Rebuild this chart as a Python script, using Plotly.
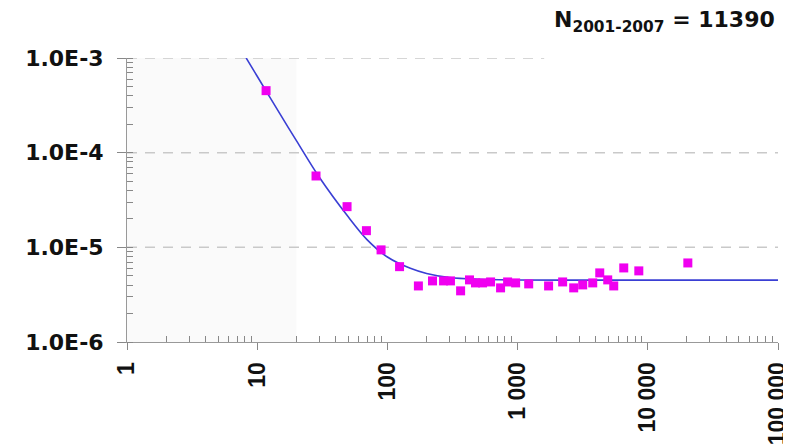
import plotly.graph_objects as go

# ---- data ----
point_x = [11.7, 28.3, 49, 69, 89.4, 124, 173, 222, 270, 305, 365, 427, 475, 538, 620, 740, 838,
           966, 1217, 1730, 2218, 2697, 3162, 3776, 4275, 4923, 5475, 6536, 8530, 20300]
point_y = [4.52e-4, 5.67e-5, 2.69e-5, 1.50e-5, 9.4e-6, 6.25e-6, 3.91e-6, 4.42e-6, 4.42e-6, 4.42e-6,
           3.47e-6, 4.53e-6, 4.21e-6, 4.21e-6, 4.31e-6, 3.73e-6, 4.31e-6, 4.21e-6, 4.11e-6, 3.91e-6,
           4.31e-6, 3.73e-6, 4.01e-6, 4.21e-6, 5.37e-6, 4.53e-6, 3.91e-6, 6.06e-6, 5.64e-6, 6.84e-6]

curve_x = [7.8, 10, 15, 20, 30, 50, 70, 100, 150, 200, 300, 500, 1000, 3000, 10000, 100000]
curve_y = [1.13e-3, 6.42e-4, 2.55e-4, 1.34e-4, 5.5e-5, 2.1e-5, 1.2e-5, 7.9e-6, 6.0e-6, 5.3e-6,
           4.8e-6, 4.6e-6, 4.52e-6, 4.5e-6, 4.5e-6, 4.5e-6]

x_tickvals = [1, 10, 100, 1000, 10000, 100000]
x_ticktext = ["1", "10", "100", "1 000", "10 000", "100 000"]
y_tickvals = [1e-6, 1e-5, 1e-4, 1e-3]
y_ticktext = ["1.0E-6", "1.0E-5", "1.0E-4", "1.0E-3"]
minor_steps = [2, 3, 4, 5, 6, 7, 8, 9]
grid_levels = [1e-5, 1e-4]
shaded_span = [1, 20]
title_text = "N<sub>2001-2007</sub> = 11390"

x_minor = [m * d for d in x_tickvals[:-1] for m in minor_steps]

fig = go.Figure()

fig.add_trace(go.Scatter(x=curve_x, y=curve_y, mode="lines",
                         line=dict(color="#3a3fd4", width=1.6, shape="spline", smoothing=1.0),
                         hoverinfo="skip", showlegend=False))
fig.add_trace(go.Scatter(x=point_x, y=point_y, mode="markers",
                         marker=dict(symbol="square", size=9, color="#f000f0"), showlegend=False))

shapes = []
shapes.append(dict(type="rect", xref="x", yref="paper", x0=shaded_span[0], x1=shaded_span[1], y0=0, y1=1,
                   fillcolor="#fafafa", line=dict(width=0), layer="below"))
for g in grid_levels:
    shapes.append(dict(type="line", xref="paper", yref="y", x0=0, x1=1, y0=g, y1=g,
                       line=dict(color="#c9c9c9", width=1.5, dash="10px,8px"), layer="below"))
shapes.append(dict(type="line", xref="x", yref="y", x0=1, x1=1600, y0=1e-3, y1=1e-3,
                   line=dict(color="#c9c9c9", width=1.5, dash="10px,8px"), layer="below"))

# page body has an 8px margin, so the figure is offset by (8, 8) in the window
fig.update_layout(
    width=791, height=445,
    margin=dict(l=119, r=21, t=50, b=111, autoexpand=False),
    paper_bgcolor="white", plot_bgcolor="white",
    shapes=shapes,
    annotations=[dict(text=title_text, xref="paper", yref="paper", x=0.9985, y=1.13,
                      xanchor="right", yanchor="middle", showarrow=False,
                      font=dict(family="DejaVu Sans", size=22, color="#111", weight="bold"))],
)

fig.update_xaxes(type="log", range=[0, 5], tickmode="array", tickvals=x_tickvals, ticktext=x_ticktext,
                 tickangle=-90, automargin=False,
                 showgrid=False, zeroline=False, showline=True, linecolor="#999", linewidth=1,
                 ticks="outside", ticklen=7, tickcolor="#888", ticklabelstandoff=3,
                 tickfont=dict(family="Liberation Sans", size=23, color="#111", weight="bold"),
                 minor=dict(tickmode="array", tickvals=x_minor, ticks="inside", ticklen=6,
                            tickcolor="#888", tickwidth=1, showgrid=False))
fig.update_yaxes(type="log", range=[-6, -3], tickmode="array", tickvals=y_tickvals, ticktext=y_ticktext,
                 automargin=False,
                 showgrid=False, zeroline=False, showline=True, linecolor="#999", linewidth=1,
                 ticks="outside", ticklen=9, tickcolor="#888", ticklabelstandoff=9,
                 tickfont=dict(family="DejaVu Sans", size=22, color="#111", weight="bold"),
                 minor=dict(dtick="D1", ticks="inside", ticklen=6,
                            tickcolor="#888", tickwidth=1, showgrid=False))

fig.write_html("out.html")
